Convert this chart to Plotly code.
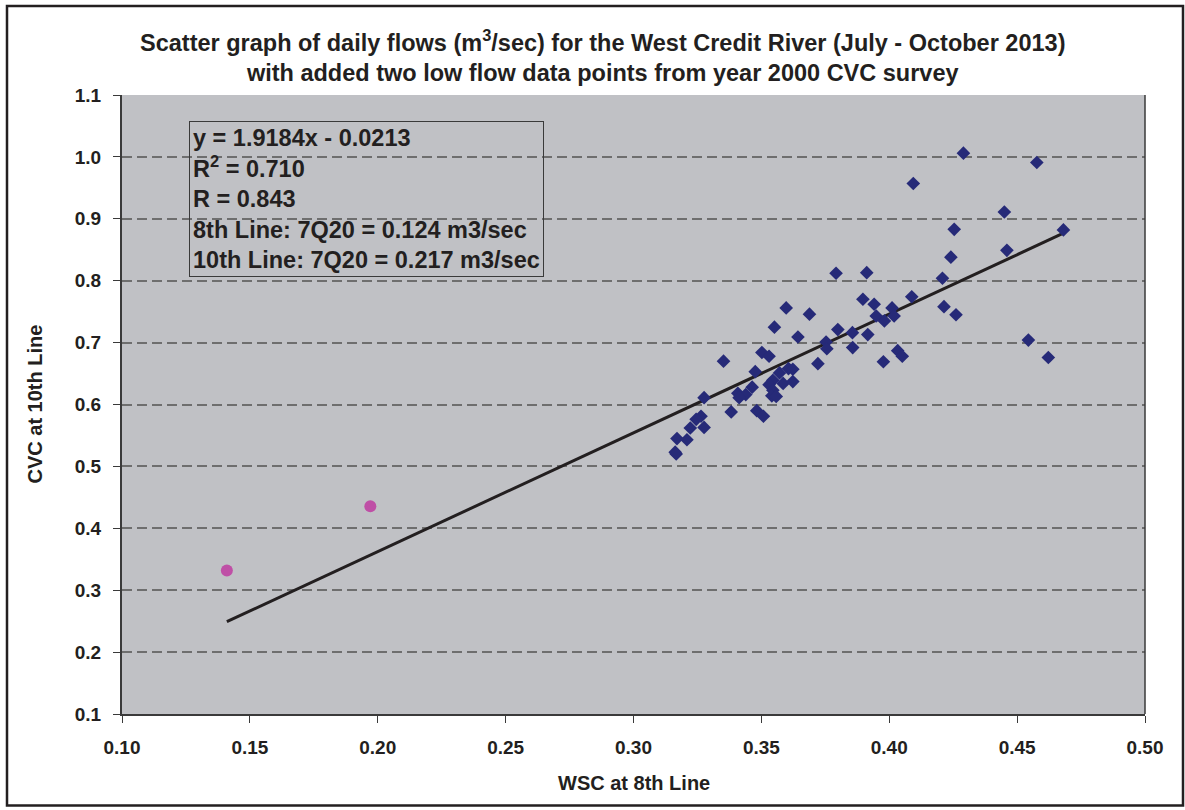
import plotly.graph_objects as go

# WSC at 8th Line (x) vs CVC at 10th Line (y), July - October 2013 daily flows
wsc_2013 = [0.4094, 0.3792, 0.3912, 0.4088, 0.3597, 0.3688, 0.3897, 0.3941, 0.4011, 0.3949,
            0.4019, 0.3981, 0.3551, 0.3799, 0.3856, 0.3916, 0.3643, 0.3753, 0.3756, 0.3857,
            0.4033, 0.4051, 0.3977, 0.3721, 0.3352, 0.3502, 0.3530, 0.3476, 0.3571, 0.3606,
            0.3623, 0.3545, 0.3530, 0.3585, 0.3623, 0.3464, 0.3545, 0.3408, 0.3439, 0.3413,
            0.3541, 0.3558, 0.3276, 0.3382, 0.3482, 0.3508, 0.3264, 0.3245, 0.3222, 0.3276,
            0.3170, 0.3209, 0.3163, 0.3167, 0.4290, 0.4577, 0.4450, 0.4254, 0.4681, 0.4241,
            0.4460, 0.4208, 0.4214, 0.4261, 0.4544, 0.4622]
cvc_2013 = [0.957, 0.812, 0.813, 0.774, 0.756, 0.746, 0.770, 0.762, 0.756, 0.743,
            0.743, 0.735, 0.725, 0.721, 0.716, 0.713, 0.709, 0.701, 0.690, 0.692,
            0.687, 0.678, 0.669, 0.666, 0.670, 0.684, 0.678, 0.653, 0.651, 0.658,
            0.657, 0.639, 0.632, 0.634, 0.637, 0.628, 0.623, 0.618, 0.616, 0.611,
            0.614, 0.613, 0.611, 0.588, 0.590, 0.581, 0.581, 0.576, 0.562, 0.563,
            0.545, 0.543, 0.523, 0.520, 1.006, 0.991, 0.911, 0.883, 0.882, 0.838,
            0.849, 0.804, 0.758, 0.745, 0.704, 0.676]

# Two low-flow points from the year 2000 CVC survey
wsc_2000 = [0.1410, 0.1971]
cvc_2000 = [0.332, 0.4355]

# Linear trend (from the chart's equation)
slope = 1.9184
intercept = -0.0213

x_ticks = [0.10, 0.15, 0.20, 0.25, 0.30, 0.35, 0.40, 0.45, 0.50]
y_ticks = [0.1, 0.2, 0.3, 0.4, 0.5, 0.6, 0.7, 0.8, 0.9, 1.0, 1.1]

title_lines = ["Scatter graph of daily flows (m<sup>3</sup>/sec) for the West Credit River (July - October 2013)",
               "with added two low flow data points from year 2000 CVC survey"]
box_lines = ["y = 1.9184x - 0.0213", "R<sup>2</sup> = 0.710", "R = 0.843",
             "8th Line: 7Q20 = 0.124 m3/sec", "10th Line: 7Q20 = 0.217 m3/sec"]
x_title = "WSC at 8th Line"
y_title = "CVC at 10th Line"

all_x = wsc_2013 + wsc_2000
x_line = [min(all_x), max(all_x)]
y_line = [slope * v + intercept for v in x_line]

FONT = "Liberation Sans, Arial, sans-serif"
TXT = "#231f20"

fig = go.Figure()
fig.add_trace(go.Scatter(x=x_line, y=y_line, mode="lines",
                         line=dict(color="#231f20", width=3), showlegend=False, hoverinfo="skip"))
fig.add_trace(go.Scatter(x=wsc_2013, y=cvc_2013, mode="markers",
                         marker=dict(symbol="diamond", size=10.5, color="#262a78"),
                         showlegend=False))
fig.add_trace(go.Scatter(x=wsc_2000, y=cvc_2000, mode="markers",
                         marker=dict(symbol="circle", size=12, color="#bf4fa6"),
                         showlegend=False))

fig.update_layout(
    width=1185, height=810, autosize=False,
    margin=dict(l=122, r=40, t=95, b=96, pad=0),
    paper_bgcolor="white", plot_bgcolor="#c0c1c5",
    font=dict(family=FONT, color=TXT),
    showlegend=False,
)
fig.update_xaxes(range=[0.10, 0.50], tickvals=x_ticks, ticktext=[f"<b>{v:.2f}</b>" for v in x_ticks],
                 showgrid=False, zeroline=False, showline=True, linecolor="#3a3a3a", linewidth=2,
                 ticks="outside", ticklen=7, tickwidth=1, tickcolor="#3a3a3a",
                 tickfont=dict(family=FONT, size=19, color=TXT), ticklabelstandoff=8)
fig.update_yaxes(range=[0.1, 1.1], tickvals=y_ticks, ticktext=[f"<b>{v:.1f}</b>" for v in y_ticks],
                 showgrid=True, gridcolor="#6e6e6e", gridwidth=1.5, griddash="10px,5px",
                 zeroline=False, showline=True, linecolor="#3a3a3a", linewidth=2,
                 ticks="outside", ticklen=7, tickwidth=1, tickcolor="#3a3a3a",
                 tickfont=dict(family=FONT, size=19, color=TXT), ticklabelstandoff=8)

# plot area right border
fig.add_shape(type="line", xref="paper", yref="paper", x0=1, x1=1, y0=0, y1=1,
              line=dict(color="#3a3a3a", width=1.5))
# outer chart border
fig.add_shape(type="rect", xref="paper", yref="paper",
              x0=(7 - 122) / 1023, x1=(1183 - 122) / 1023,
              y0=(713.5 - 805) / 618.5, y1=(713.5 - 6) / 618.5,
              line=dict(color="#231f20", width=2.5), fillcolor="rgba(0,0,0,0)", layer="below")

fig.add_annotation(xref="paper", yref="paper", x=(602 - 122) / 1023, y=(713.5 - 56) / 618.5,
                   text="<br>".join(f"<b>{s}</b>" for s in title_lines), showarrow=False,
                   xanchor="center", yanchor="middle",
                   font=dict(family=FONT, size=23.5, color=TXT))
fig.add_annotation(xref="paper", yref="paper", x=0.5, y=(713.5 - 782) / 618.5,
                   text=f"<b>{x_title}</b>", showarrow=False, xanchor="center", yanchor="middle",
                   font=dict(family=FONT, size=20, color=TXT))
fig.add_annotation(xref="paper", yref="paper", x=(34 - 122) / 1023, y=0.5,
                   text=f"<b>{y_title}</b>", showarrow=False, textangle=-90,
                   xanchor="center", yanchor="middle",
                   font=dict(family=FONT, size=20, color=TXT))
fig.add_annotation(xref="paper", yref="paper", x=(189 - 122) / 1023, y=(713.5 - 121) / 618.5,
                   text="<br>".join(f"<b>{s}</b>" for s in box_lines), showarrow=False,
                   xanchor="left", yanchor="top", align="left",
                   bordercolor="#3a3a3a", borderwidth=1, borderpad=3,
                   font=dict(family=FONT, size=23.5, color=TXT))

fig.write_html("out.html", config={"displayModeBar": False},
               post_script="document.body.style.margin='0px';")
